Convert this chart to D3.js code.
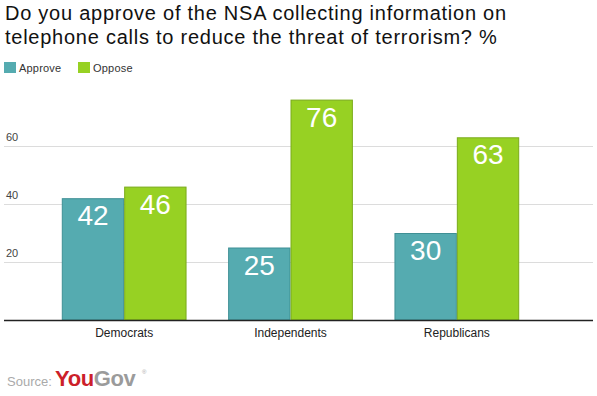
<!DOCTYPE html>
<html lang="en">
<head>
  <meta charset="UTF-8" />
  <title>NSA telephone data</title>
  <script src="https://d3js.org/d3.v7.min.js"></script>
  <style>
    body { margin: 0; background: #fff; }
    svg { display: block; font-family: Arial, "Liberation Sans", sans-serif; }
  </style>
</head>
<body>
  <svg id="chart" width="597" height="396"></svg>
  <script>
    const categories = ["Democrats", "Independents", "Republicans"];
    const seriesNames = ["Approve", "Oppose"];
    const approve = [42, 25, 30];
    const oppose = [46, 76, 63];
    const yTicks = [20, 40, 60];

    const fills = { Approve: "#55abb0", Oppose: "#97d123" };
    const strokes = { Approve: "#3f9095", Oppose: "#7aab1b" };

    const svg = d3.select("#chart");

    // title
    const title = svg.append("text")
      .attr("x", 5)
      .attr("y", 20)
      .style("font-size", "20px")
      .style("letter-spacing", "0.75px")
      .style("fill", "#111");
    title.append("tspan").attr("x", 5).text("Do you approve of the NSA collecting information on");
    title.append("tspan").attr("x", 5).attr("dy", 24).text("telephone calls to reduce the threat of terrorism? %");

    // legend
    const legend = svg.append("g").attr("transform", "translate(4,62)");
    const legX = [0, 74];
    seriesNames.forEach((s, i) => {
      const g = legend.append("g").attr("transform", `translate(${legX[i]},0)`);
      g.append("rect").attr("width", 12).attr("height", 11).attr("fill", fills[s]);
      g.append("text").attr("x", 15).attr("y", 10)
        .style("font-size", "11px").style("letter-spacing", "0.2px")
        .style("fill", "#333").text(s);
    });

    const y = d3.scaleLinear().domain([0, 20]).range([320, 262]);
    const x0 = d3.scaleBand().domain(categories).range([41, 540])
      .paddingInner(0.25).paddingOuter(0.125);
    const x1 = d3.scaleBand().domain(seriesNames).range([0, x0.bandwidth()]);

    // gridlines
    svg.append("g").selectAll("line")
      .data(yTicks)
      .join("line")
      .attr("x1", 4).attr("x2", 593)
      .attr("y1", d => y(d) + 0.5).attr("y2", d => y(d) + 0.5)
      .attr("stroke", "#dcdcdc");

    svg.append("g").selectAll("text")
      .data(yTicks)
      .join("text")
      .attr("x", 6).attr("y", d => y(d) - 5)
      .style("font-size", "11px").style("fill", "#444")
      .text(d => d);

    const rows = categories.map((c, i) => ({ cat: c, values: [
      { s: "Approve", v: approve[i] },
      { s: "Oppose", v: oppose[i] }
    ] }));

    const groups = svg.append("g").selectAll("g")
      .data(rows)
      .join("g")
      .attr("transform", d => `translate(${x0(d.cat)},0)`);

    groups.selectAll("rect")
      .data(d => d.values)
      .join("rect")
      .attr("x", d => x1(d.s) + 0.5)
      .attr("y", d => y(d.v) + 0.5)
      .attr("width", x1.bandwidth() - 1)
      .attr("height", d => y(0) - y(d.v) - 0.5)
      .attr("fill", d => fills[d.s])
      .attr("stroke", d => strokes[d.s]);

    groups.selectAll("text")
      .data(d => d.values)
      .join("text")
      .attr("x", d => x1(d.s) + x1.bandwidth() / 2)
      .attr("y", d => y(d.v) + 27)
      .attr("text-anchor", "middle")
      .style("font-size", "28px")
      .style("fill", "#fff")
      .text(d => d.v);

    // baseline
    svg.append("line")
      .attr("x1", 4).attr("x2", 593)
      .attr("y1", y(0) + 0.5).attr("y2", y(0) + 0.5)
      .attr("stroke", "#222").attr("stroke-width", 1.5);

    // category labels
    svg.append("g").selectAll("text")
      .data(categories)
      .join("text")
      .attr("x", d => x0(d) + x0.bandwidth() / 2)
      .attr("y", 337)
      .attr("text-anchor", "middle")
      .style("font-size", "12px").style("fill", "#222")
      .text(d => d);

    // source
    svg.append("text").attr("x", 7).attr("y", 386)
      .style("font-size", "13px").style("fill", "#aaa").text("Source:");
    const logo = svg.append("text").attr("x", 55).attr("y", 386)
      .style("font-size", "22px").style("font-weight", "bold").style("letter-spacing", "-0.4px");
    logo.append("tspan").style("fill", "#cc1f2a").text("You");
    logo.append("tspan").style("fill", "#9b9b9b").text("Gov");
    svg.append("text").attr("x", 142).attr("y", 374)
      .style("font-size", "6px").style("fill", "#aaa").text("®");
  </script>
</body>
</html>
